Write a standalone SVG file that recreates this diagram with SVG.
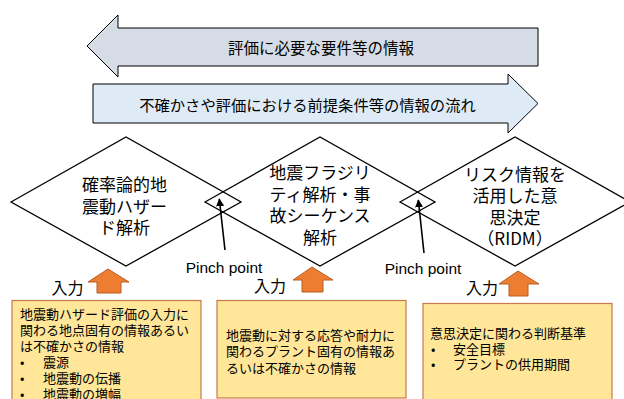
<svg xmlns="http://www.w3.org/2000/svg" width="624" height="399" viewBox="0 0 624 399">
<style>
text{font-family:"Noto Sans CJK JP","Liberation Sans",sans-serif;fill:#000;}
.arrowtxt{font-size:15.3px;text-anchor:middle;dominant-baseline:central;}
.dtxt{font-size:17px;text-anchor:middle;dominant-baseline:central;}
.btxt{font-size:13px;dominant-baseline:central;}
.lat{font-family:"Liberation Sans",Arial,sans-serif;font-size:15.5px;text-anchor:middle;dominant-baseline:central;}
.inp{font-size:16px;text-anchor:middle;dominant-baseline:central;}
.dia{fill:none;stroke:#000;stroke-width:1.3;}
.box{fill:#ffe699;stroke:#c8784a;stroke-width:1.2;}
.orng{fill:#ed7d31;stroke:#b85f23;stroke-width:1;}
.ptr{stroke:#000;stroke-width:1.6;fill:none;marker-end:url(#ah);}
</style>
<defs>
<marker id="ah" viewBox="0 0 10 10" refX="9" refY="5" markerWidth="5" markerHeight="5" orient="auto" markerUnits="strokeWidth">
<path d="M0,0 L10,5 L0,10 z" fill="#000"/>
</marker>
</defs>
<rect width="624" height="399" fill="#fff"/>
<g id="flow-left">
<polygon points="87,46 118,15 118,28 538,28 538,66 118,66 118,77" fill="#d6dce5" stroke="#000" stroke-width="1"/>
<text class="arrowtxt" x="321" y="47" style="font-size:15.5px">評価に必要な要件等の情報</text>
</g>
<g id="flow-right">
<polygon points="93,84 508,84 508,74 538,103.5 508,133 508,123 93,123" fill="#deebf7" stroke="#000" stroke-width="1"/>
<text class="arrowtxt" x="307.5" y="104">不確かさや評価における前提条件等の情報の流れ</text>
</g>
<g id="psha">
<polygon class="dia" points="11,202 126,137 241,202 126,266"/>
<text class="dtxt" x="124.5" y="183.5">確率論的地</text>
<text class="dtxt" x="124.5" y="205">震動ハザー</text>
<text class="dtxt" x="124.5" y="226.5">ド解析</text>
</g>
<g id="fragility">
<polygon class="dia" points="205,202 320,137 435,202 320,266"/>
<text class="dtxt" x="320" y="171.5">地震フラジリ</text>
<text class="dtxt" x="320" y="193">ティ解析・事</text>
<text class="dtxt" x="320" y="214.5">故シーケンス</text>
<text class="dtxt" x="320" y="236">解析</text>
</g>
<g id="ridm">
<polygon class="dia" points="400,202 515,137 630,202 515,266"/>
<text class="dtxt" x="515" y="173">リスク情報を</text>
<text class="dtxt" x="515" y="194.5">活用した意</text>
<text class="dtxt" x="515" y="216">思決定</text>
<text class="dtxt" x="515" y="237">（RIDM）</text>
</g>
<g id="connectors">
<line class="ptr" x1="225" y1="250" x2="219.3" y2="199"/>
<line class="ptr" x1="424" y1="253" x2="418.3" y2="200"/>
</g>
<g id="pinch1"><text class="lat" x="224" y="267">Pinch point</text></g>
<g id="pinch2"><text class="lat" x="423" y="268">Pinch point</text></g>
<g id="input1">
<text class="inp" x="67.5" y="287">入力</text>
<polygon class="orng" points="108,269 129,282 121,282 121,293 97,293 97,282 88,282"/>
</g>
<g id="input2">
<text class="inp" x="270" y="285">入力</text>
<polygon class="orng" points="312,267 333,280 323,280 323,292 302,292 302,280 293,280"/>
</g>
<g id="input3">
<text class="inp" x="482" y="287">入力</text>
<polygon class="orng" points="518,271 539,284 528,284 528,296 509,296 509,284 499,284"/>
</g>
<g id="box1">
<rect class="box" x="12" y="300.5" width="189" height="110"/>
<text class="btxt" x="20" y="313">地震動ハザード評価の入力に</text>
<text class="btxt" x="20" y="329">関わる地点固有の情報あるい</text>
<text class="btxt" x="20" y="345">は不確かさの情報</text>
<text class="btxt" x="20" y="361">•</text><text class="btxt" x="43" y="361">震源</text>
<text class="btxt" x="20" y="377">•</text><text class="btxt" x="43" y="377">地震動の伝播</text>
<text class="btxt" x="20" y="393">•</text><text class="btxt" x="43" y="393">地震動の増幅</text>
</g>
<g id="box2">
<rect class="box" x="217" y="300.5" width="189" height="97.5"/>
<text class="btxt" x="226" y="334">地震動に対する応答や耐力に</text>
<text class="btxt" x="226" y="350.5">関わるプラント固有の情報あ</text>
<text class="btxt" x="226" y="367">るいは不確かさの情報</text>
</g>
<g id="box3">
<rect class="box" x="423" y="303.5" width="189" height="100"/>
<text class="btxt" x="430" y="332">意思決定に関わる判断基準</text>
<text class="btxt" x="431" y="348">•</text><text class="btxt" x="453" y="348">安全目標</text>
<text class="btxt" x="431" y="363.5">•</text><text class="btxt" x="453" y="363.5">プラントの供用期間</text>
</g>
</svg>
